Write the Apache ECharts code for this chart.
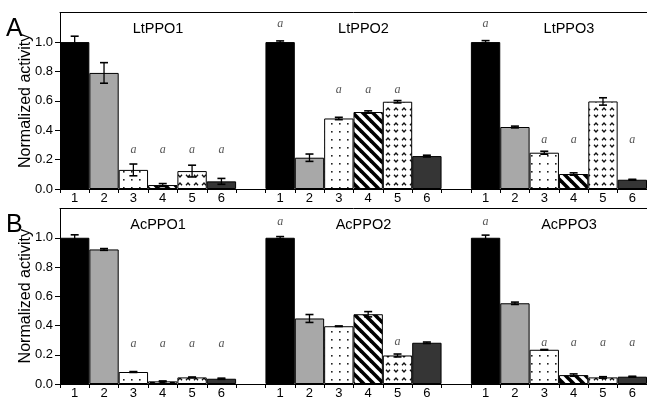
<!DOCTYPE html>
<html><head><meta charset="utf-8">
<script src="https://cdn.jsdelivr.net/npm/echarts@6/dist/echarts.min.js"></script>
<style>html,body{margin:0;padding:0;background:#fff}#c{width:647px;height:400px}</style>
</head><body><div id="c"></div>
<script>
// ---------------- data ----------------
const treatments = ['1','2','3','4','5','6'];
const panelLetters = ['A','B'];
const enzymesA = ['LtPPO1','LtPPO2','LtPPO3'];
const enzymesB = ['AcPPO1','AcPPO2','AcPPO3'];
const valuesA = [
  [1.00, 0.79, 0.13, 0.027, 0.122, 0.052],
  [1.00, 0.213, 0.48, 0.524, 0.594, 0.224],
  [1.00, 0.422, 0.247, 0.102, 0.596, 0.063]
];
const errorsA = [
  [0.04, 0.07, 0.04, 0.01, 0.04, 0.02],
  [0.008, 0.025, 0.008, 0.008, 0.008, 0.006],
  [0.01, 0.006, 0.01, 0.008, 0.025, 0.003]
];
const valuesB = [
  [1.00, 0.92, 0.082, 0.018, 0.045, 0.036],
  [1.00, 0.448, 0.395, 0.477, 0.195, 0.282],
  [1.00, 0.552, 0.234, 0.061, 0.045, 0.05]
];
const errorsB = [
  [0.02, 0.006, 0.003, 0.003, 0.003, 0.004],
  [0.008, 0.027, 0.002, 0.018, 0.01, 0.005],
  [0.018, 0.008, 0.002, 0.008, 0.005, 0.003]
];
// heights (data units) of the significance letter "a" above each bar (null = none)
const letterA = [
  [null, null, 0.258, 0.258, 0.258, 0.258],
  [1.116, null, 0.667, 0.667, 0.667, null],
  [1.116, null, 0.329, 0.329, null, 0.329]
];
const letterB = [
  [null, null, 0.27, 0.27, 0.27, 0.27],
  [1.105, null, null, null, 0.28, null],
  [1.105, null, 0.275, 0.275, 0.275, 0.275]
];
const yTicks = [0.0, 0.2, 0.4, 0.6, 0.8, 1.0];
const yMax = 1.2;
const yName = 'Normalized activity';

// ---------------- patterns ----------------
function makeCanvas(w, h, draw) {
  const c = document.createElement('canvas');
  c.width = w; c.height = h;
  const ctx = c.getContext('2d');
  ctx.fillStyle = '#fff'; ctx.fillRect(0, 0, w, h);
  draw(ctx);
  return c;
}
const dots = makeCanvas(8, 8, ctx => { ctx.fillStyle = '#222'; ctx.fillRect(3, 3, 1.6, 1.6); });
const stripes = makeCanvas(10, 10, ctx => {
  ctx.strokeStyle = '#000'; ctx.lineWidth = 3.6;
  for (const k of [-10, 0, 10]) { ctx.beginPath(); ctx.moveTo(k - 2, -2); ctx.lineTo(k + 12, 12); ctx.stroke(); }
});
const chevrons = makeCanvas(8, 15, ctx => {
  ctx.strokeStyle = '#111'; ctx.lineWidth = 1.3;
  ctx.beginPath(); ctx.moveTo(2, 5.2); ctx.lineTo(4, 3); ctx.lineTo(6, 5.2); ctx.stroke();
  ctx.beginPath(); ctx.moveTo(2, 9.8); ctx.lineTo(4, 12); ctx.lineTo(6, 9.8); ctx.stroke();
});
const fills = [
  '#000000',
  '#a8a8a8',
  { image: dots, repeat: 'repeat' },
  { image: stripes, repeat: 'repeat' },
  { image: chevrons, repeat: 'repeat' },
  '#353535'
];

// ---------------- layout ----------------
const gridLeft = 60, gridWidth = 587;
const gridTops = [12.7, 208.5];
const gridHeights = [176.3, 175.8];
const nGroups = 3;
const cats = [];
for (let g = 0; g < nGroups; g++) {
  treatments.forEach(t => cats.push('g' + g + '|' + t));
  if (g < nGroups - 1) cats.push('gap' + g);
}
const slotW = gridWidth / cats.length;

function buildPanel(p, vals, errs, letters) {
  const barData = [], errData = [], letData = [];
  let idx = 0;
  for (let g = 0; g < nGroups; g++) {
    for (let t = 0; t < treatments.length; t++) {
      barData.push({ value: vals[g][t], itemStyle: { color: fills[t], borderColor: '#000', borderWidth: 1 } });
      errData.push([idx, vals[g][t], errs[g][t]]);
      if (letters[g][t] != null) letData.push([idx, letters[g][t]]);
      idx++;
    }
    if (g < nGroups - 1) { barData.push('-'); idx++; }
  }
  return [
    { type: 'bar', xAxisIndex: p, yAxisIndex: p, data: barData, barWidth: '100%', barCategoryGap: '0%', z: 2 },
    { type: 'custom', xAxisIndex: p, yAxisIndex: p, data: errData, z: 5,
      renderItem: function (params, api) {
        const x = api.value(0), v = api.value(1), e = api.value(2);
        const top = api.coord([x, v + e]), bot = api.coord([x, v - e]);
        const hw = 4;
        return { type: 'group', children: [
          { type: 'line', shape: { x1: top[0], y1: top[1], x2: bot[0], y2: bot[1] }, style: { stroke: '#000', lineWidth: 1.3 } },
          { type: 'line', shape: { x1: top[0] - hw, y1: top[1], x2: top[0] + hw, y2: top[1] }, style: { stroke: '#000', lineWidth: 1.6 } },
          { type: 'line', shape: { x1: bot[0] - hw, y1: bot[1], x2: bot[0] + hw, y2: bot[1] }, style: { stroke: '#000', lineWidth: 1.6 } }
        ] };
      } },
    { type: 'custom', xAxisIndex: p, yAxisIndex: p, data: letData, z: 6,
      renderItem: function (params, api) {
        const pt = api.coord([api.value(0), api.value(1)]);
        return { type: 'text', x: pt[0], y: pt[1] - 1,
          style: { text: 'a', fill: '#555', font: 'italic 12px "Liberation Serif", serif',
                   align: 'center', verticalAlign: 'middle', textAlign: 'center', textVerticalAlign: 'middle' } };
      } }
  ];
}

const series = [].concat(
  buildPanel(0, valuesA, errorsA, letterA),
  buildPanel(1, valuesB, errorsB, letterB)
);

const titles = [];
[enzymesA, enzymesB].forEach((names, p) => {
  names.forEach((n, g) => {
    titles.push({ text: n, left: gridLeft + (g * 7 + 3) * slotW + 5, top: gridTops[p] + 4, textAlign: 'center',
      textStyle: { fontSize: 14.5, fontWeight: 'normal', color: '#000', fontFamily: 'Liberation Sans' } });
  });
  titles.push({ text: panelLetters[p], left: 1, top: gridTops[p] - 1,
    textStyle: { fontSize: 25, fontWeight: 'normal', color: '#000', fontFamily: 'Liberation Sans' } });
});

const font = 'Liberation Sans';
const option = {
  animation: false,
  backgroundColor: '#fff',
  title: titles,
  grid: [0, 1].map(p => ({ left: gridLeft, width: gridWidth, top: gridTops[p], height: gridHeights[p], containLabel: false })),
  xAxis: [0, 1].map(p => ({
    gridIndex: p, type: 'category', data: cats, boundaryGap: true, position: 'bottom',
    axisLine: { show: true, lineStyle: { color: '#000', width: 1 } },
    axisTick: { show: true, interval: 0, length: 4, lineStyle: { color: '#000', width: 1 } },
    axisLabel: { interval: 0, margin: 3, fontSize: 13, color: '#000', fontFamily: font,
      formatter: v => v.indexOf('gap') === 0 ? '' : v.split('|')[1] },
    splitLine: { show: false }
  })).concat([0, 1].map(p => ({
    gridIndex: p, type: 'value', position: 'top', min: 0, max: 1,
    axisLine: { show: true, onZero: false, lineStyle: { color: '#000', width: 1 } },
    axisTick: { show: false }, axisLabel: { show: false }, splitLine: { show: false }
  }))),
  yAxis: [0, 1].map(p => ({
    gridIndex: p, type: 'value', min: 0, max: yMax,
    axisLine: { show: true, lineStyle: { color: '#000', width: 1 } },
    axisTick: { show: true, length: 5, customValues: yTicks, lineStyle: { color: '#000' } },
    axisLabel: { customValues: yTicks, formatter: v => Number(v).toFixed(1), fontSize: 13, margin: 7, color: '#000', fontFamily: font },
    splitLine: { show: false },
    name: yName, nameLocation: 'middle', nameGap: 26, nameMoveOverlap: false,
    nameTextStyle: { fontSize: 16, color: '#000', fontFamily: font }
  })),
  series: series
};
const chart = echarts.init(document.getElementById('c'), null, { renderer: 'canvas' });
chart.setOption(option);
</script>
</body></html>
